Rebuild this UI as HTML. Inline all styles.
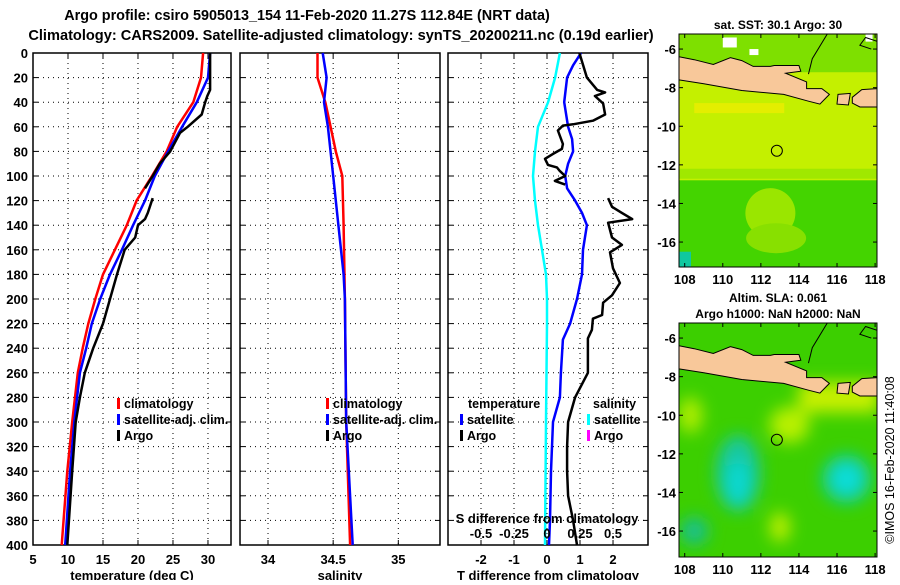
<!DOCTYPE html>
<html><head><meta charset="utf-8"><style>
html,body{margin:0;padding:0;background:#fff}
body{width:900px;height:580px;overflow:hidden;font-family:"Liberation Sans",Arial,sans-serif}
svg text{font-family:"Liberation Sans",Arial,sans-serif;font-weight:bold;fill:#000}
svg text.norm{font-weight:normal}
</style></head><body>
<svg id="chart" width="900" height="580" viewBox="0 0 900 580" xmlns="http://www.w3.org/2000/svg">
<text x="307" y="20" font-size="14.4" text-anchor="middle">Argo profile: csiro 5905013_154 11-Feb-2020 11.27S 112.84E (NRT data)</text>
<text x="341" y="40" font-size="14.6" text-anchor="middle">Climatology: CARS2009. Satellite-adjusted climatology: synTS_20200211.nc (0.19d earlier)</text>
<g id="g"></g>
</svg>
<script>
// ---------- data ----------
const depthTicks=[0,20,40,60,80,100,120,140,160,180,200,220,240,260,280,300,320,340,360,380,400];
const tempTicks=[5,10,15,20,25,30];
const salTicks=[34,34.5,35];
const tdiffTicks=[-2,-1,0,1,2];
const sdiffTicks=[-0.5,-0.25,0,0.25,0.5];
const sdiffTickLabels=["-0.5","-0.25","0","0.25","0.5"];

const climTDepth=[0,20,40,60,80,100,120,140,160,180,200,220,240,260,300,340,400];
const climT=[29.3,29.0,27.9,25.6,24.1,22.0,19.8,18.4,16.7,15.0,13.9,12.9,12.1,11.4,10.6,9.9,9.1];
const satTDepth=[0,20,40,60,80,100,120,140,160,180,200,220,240,260,300,340,400];
const satT=[30.3,30.0,28.4,26.3,24.3,22.4,21.0,19.3,17.7,16.0,14.6,13.4,12.6,11.7,10.9,10.3,9.6];
const argoTDepth1=[0,30,35,40,50,60,65,80,90,100,110];
const argoT1=[30.3,30.3,29.9,29.6,29.1,27.1,26.0,24.6,23.1,22.1,21.0];
const argoTDepth2=[118,130,135,140,150,160,180,200,220,240,260,280,300,340,400];
const argoT2=[22.1,21.4,21.0,20.0,19.6,18.1,17.0,16.0,15.0,13.6,12.4,11.7,11.1,10.6,9.9];

const climSDepth=[0,20,40,60,80,100,140,200,300,400];
const climS=[34.38,34.38,34.44,34.48,34.52,34.57,34.58,34.59,34.6,34.63];
const satSDepth=[0,20,40,60,100,140,180,200,300,400];
const satS=[34.42,34.45,34.43,34.46,34.5,34.54,34.58,34.59,34.6,34.65];

const satTdDepth=[0,10,20,40,60,70,80,90,100,110,120,130,140,160,180,200,220,233,260,280,300,340,380,400];
const satTd=[1.03,0.79,0.61,0.52,0.64,0.76,0.79,0.64,0.55,0.61,0.85,1.06,1.21,1.09,1.06,0.91,0.70,0.48,0.42,0.39,0.18,0.12,0.09,0.06];
const argoTdDepth1=[0,20,30,32,35,41,50,55,58,59,63,74,78,82,86,91,93,96,100,104,107];
const argoTd1=[0.98,1.21,1.52,1.76,1.45,1.70,1.76,1.39,0.79,0.48,0.33,0.48,0.45,0.18,-0.06,0.03,0.30,0.39,0.55,0.24,0.55];
const argoTdDepth2=[118,125,130,135,138,150,156,162,175,187,197,203,213,216,225,232,260,280,300,320,340,360,380,400];
const argoTd2=[1.85,1.97,2.27,2.58,1.85,1.97,2.27,1.91,2.0,2.21,1.97,1.70,1.67,1.39,1.36,1.24,1.24,0.85,0.64,0.61,0.61,0.64,0.79,0.91];
const satSdDepth=[0,20,40,60,80,100,120,140,160,180,200,220,300,400];
const satSd=[0.098,0.061,0.008,-0.068,-0.091,-0.106,-0.091,-0.068,-0.038,-0.008,0,0,-0.008,-0.015];

// ---------- helpers ----------
const NS="http://www.w3.org/2000/svg";
const G=document.getElementById('g');
function mk(tag,attrs,parent){const e=document.createElementNS(NS,tag);for(const k in attrs)e.setAttribute(k,attrs[k]);(parent||G).appendChild(e);return e;}
function txt(s,x,y,size,anchor,parent){const t=mk('text',{x:x,y:y,'font-size':size,'text-anchor':anchor||'middle'},parent);t.textContent=s;return t;}
const TOP=53,BOT=545;
function yD(d){return TOP+d*(BOT-TOP)/400;}

function panel(name,x0,x1,xmin,xmax,ticks,tickLabels,yLabels,xTitle){
  const sx=v=>x0+(v-xmin)*(x1-x0)/(xmax-xmin);
  const g=mk('g',{});
  
  
  depthTicks.forEach(d=>{
    if(d>0&&d<400){const l=mk('line',{x1:x0,x2:x1,y1:yD(d),y2:yD(d),stroke:'#000','stroke-width':1,'stroke-dasharray':'1,4'},g);
      }
    mk('line',{x1:x0,x2:x0+5,y1:yD(d),y2:yD(d),stroke:'#000'},g);
    mk('line',{x1:x1-5,x2:x1,y1:yD(d),y2:yD(d),stroke:'#000'},g);
    if(yLabels){const t=txt(String(d),28,yD(d)+5,13,'end',g);}
  });
  ticks.forEach((v,i)=>{
    const X=sx(v);
    const l=mk('line',{x1:X,x2:X,y1:TOP,y2:BOT,stroke:'#000','stroke-width':1,'stroke-dasharray':'1,4'},g);
    
    mk('line',{x1:X,x2:X,y1:BOT-5,y2:BOT,stroke:'#000'},g);
    mk('line',{x1:X,x2:X,y1:TOP,y2:TOP+5,stroke:'#000'},g);
    const t=txt(tickLabels[i],X,564,13,'middle',g);
    
  });
  const fr=mk('rect',{x:x0,y:TOP,width:x1-x0,height:BOT-TOP,fill:'none',stroke:'#000','stroke-width':1.5},g);
  
  const xt=txt(xTitle,(x0+x1)/2,580,13,'middle',g);
  
  return {sx,g};
}
function line(p,vals,depths,color,w,name,scale){
  const pts=vals.map((v,i)=>p.sx(v*(scale||1)).toFixed(1)+','+yD(depths[i]).toFixed(1)).join(' ');
  const l=mk('polyline',{points:pts,fill:'none',stroke:color,'stroke-width':w,'stroke-linejoin':'round'},p.g);
  
  
}
function legend(parent,x,y,color,label,name){
  mk('rect',{x:x,y:y-10,width:3,height:11,fill:color},parent);
  const t=txt(label,x+7,y,12.5,'start',parent);
  
  
}

// panel 1
const p1=panel('temperature-panel',33,231,5,33.29,tempTicks,tempTicks.map(String),true,'temperature (deg C)');
line(p1,climT,climTDepth,'#ff0000',2.5,'climatology-temperature-line');
line(p1,satT,satTDepth,'#0000ff',2.5,'satellite-temperature-line');
line(p1,argoT1,argoTDepth1,'#000',2.5,'argo-temperature-line-upper');
line(p1,argoT2,argoTDepth2,'#000',2.5,'argo-temperature-line-lower');
legend(p1.g,117,408,'#ff0000','climatology','legend-climatology');
legend(p1.g,117,424,'#0000ff','satellite-adj. clim.','legend-satellite');
legend(p1.g,117,440,'#000','Argo','legend-argo');

// panel 2
const p2=panel('salinity-panel',240,440,33.785,35.32,salTicks,['34','34.5','35'],false,'salinity');
line(p2,climS,climSDepth,'#ff0000',2.5,'climatology-salinity-line');
line(p2,satS,satSDepth,'#0000ff',2.5,'satellite-salinity-line');
legend(p2.g,326,408,'#ff0000','climatology','legend-climatology');
legend(p2.g,326,424,'#0000ff','satellite-adj. clim.','legend-satellite');
legend(p2.g,326,440,'#000','Argo','legend-argo');

// panel 3
const p3=panel('difference-panel',448,648,-3,3.06,tdiffTicks,tdiffTicks.map(String),false,'T difference from climatology');
line(p3,satSd,satSdDepth,'#00ffff',2.5,'satellite-salinity-diff-line',4);
line(p3,satTd,satTdDepth,'#0000ff',2.5,'satellite-temperature-diff-line');
line(p3,argoTd1,argoTdDepth1,'#000',2.5,'argo-temperature-diff-line-upper');
line(p3,argoTd2,argoTdDepth2,'#000',2.5,'argo-temperature-diff-line-lower');
sdiffTicks.forEach((v,i)=>{
  const t=txt(sdiffTickLabels[i],p3.sx(v*4),538,13,'middle',p3.g);
  
});
{const t=txt('S difference from climatology',547,523,13,'middle',p3.g);}
{const t=txt('temperature',468,408,12.5,'start',p3.g);}
{const t=txt('salinity',593,408,12.5,'start',p3.g);}
legend(p3.g,460,424,'#0000ff','satellite','legend-temperature-satellite');
legend(p3.g,460,440,'#000','Argo','legend-temperature-argo');
legend(p3.g,587,424,'#00ffff','satellite','legend-salinity-satellite');
legend(p3.g,587,440,'#ff00ff','Argo','legend-salinity-argo');

// ---------- maps ----------
const latTicks=[-6,-8,-10,-12,-14,-16], lonTicks=[108,110,112,114,116,118];
const java=[[107.7,-6.4],[108.5,-6.55],[109.5,-6.8],[110.4,-6.45],[111,-6.6],[111.6,-6.9],[112.5,-6.9],[112.7,-6.85],[114,-6.85],[114.1,-7.15],[113.3,-7.25],[114.4,-7.7],[114.4,-8.05],[115.2,-8.05],[115.6,-8.35],[115.1,-8.85],[114.5,-8.7],[113.2,-8.35],[111,-8.15],[109,-7.8],[107.7,-7.6]];
const lombok=[[116.05,-8.35],[116.7,-8.3],[116.6,-8.9],[116.0,-8.85]];
const sumbawa=[[116.8,-8.5],[117.3,-8.1],[118.1,-8.05],[118.1,-9.0],[117.2,-9.0],[116.8,-8.8]];
const argoLon=112.84, argoLat=-11.27;

function map(name,x0,y0,w,h,latTop,kind,title){
  const lon0=107.7,lon1=118.1,lat0=latTop,lat1=latTop-h/19.3;
  const px=lo=>x0+(lo-lon0)*w/(lon1-lon0);
  const py=la=>y0+(lat0-la)*h/(lat0-lat1);
  const g=mk('g',{});
  
  
  const id='clip'+name;
  const cp=mk('clipPath',{id:id},g);mk('rect',{x:x0,y:y0,width:w,height:h},cp);
  const inner=mk('g',{'clip-path':'url(#'+id+')'},g);
  if(kind==='sst'){
    mk('rect',{x:x0,y:y0,width:w,height:h,fill:'#c4f000'},inner);
    mk('rect',{x:x0,y:py(-12.8),width:w,height:h,fill:'#44d400'},inner);
    mk('ellipse',{cx:px(112.5),cy:py(-14.5),rx:25,ry:25,fill:'#9ae600'},inner);
    mk('ellipse',{cx:px(112.8),cy:py(-15.8),rx:30,ry:15,fill:'#88e000'},inner);
    mk('rect',{x:x0,y:py(-12.2),width:w,height:10,fill:'#a0e800'},inner);
    mk('rect',{x:x0,y:y0,width:w,height:py(-7.2)-y0,fill:'#7ee000'},inner);
    mk('rect',{x:px(108.5),y:py(-8.8),width:90,height:10,fill:'#e4ee00'},inner);
    mk('rect',{x:x0,y:py(-16.5),width:12,height:30,fill:'#10c8a0'},inner);
    mk('rect',{x:px(110),y:py(-5.4),width:14,height:10,fill:'#fff'},inner);
    mk('rect',{x:px(111.4),y:py(-6.0),width:9,height:6,fill:'#fff'},inner);
    mk('rect',{x:px(117.5),y:py(-5.2),width:7,height:8,fill:'#fff'},inner);
  } else {
    mk('rect',{x:x0,y:y0,width:w,height:h,fill:'#3ccf00'},inner);
    const defs=mk('defs',{},inner);
    const f=mk('filter',{id:'bl'+name,x:'-50%',y:'-50%',width:'200%',height:'200%'},defs);
    mk('feGaussianBlur',{stdDeviation:8},f);
    const b=mk('g',{filter:'url(#bl'+name+')'},inner);
    mk('ellipse',{cx:px(113.5),cy:py(-10.5),rx:20,ry:18,fill:'#b8f000'},b);
    mk('ellipse',{cx:px(108.3),cy:py(-10),rx:12,ry:18,fill:'#b0ee00'},b);
    mk('rect',{x:px(114),y:py(-8.3),width:80,height:30,fill:'#c8f000'},b);
    mk('ellipse',{cx:px(113),cy:py(-15.8),rx:10,ry:15,fill:'#c0f000'},b);
    mk('ellipse',{cx:px(110.8),cy:py(-13),rx:22,ry:38,fill:'#18c8a0'},b);
    mk('ellipse',{cx:px(110.8),cy:py(-13.5),rx:12,ry:22,fill:'#10d8d0'},b);
    mk('ellipse',{cx:px(116.5),cy:py(-13.3),rx:24,ry:24,fill:'#10d0b0'},b);
    mk('ellipse',{cx:px(116.5),cy:py(-13.3),rx:12,ry:12,fill:'#10e0e0'},b);
    mk('ellipse',{cx:px(108.5),cy:py(-16),rx:14,ry:14,fill:'#18c090'},b);
  }
  [java,lombok,sumbawa].forEach(poly=>{
    const l=mk('polygon',{points:poly.map(p=>px(p[0]).toFixed(1)+','+py(p[1]).toFixed(1)).join(' '),fill:'#f8c89a',stroke:'#000','stroke-width':1},inner);
    
  });
  mk('polyline',{points:[[115.5,-5.2],[114.7,-6.5],[114.5,-7.3]].map(p=>px(p[0])+','+py(p[1])).join(' '),fill:'none',stroke:'#000','stroke-width':1},inner);
  mk('polyline',{points:[[118.1,-5.6],[117.5,-5.4],[117.2,-5.8],[117.8,-6.0]].map(p=>px(p[0])+','+py(p[1])).join(' '),fill:'none',stroke:'#000','stroke-width':1},inner);
  const c=mk('circle',{cx:px(argoLon),cy:py(argoLat),r:5.5,fill:'none',stroke:'#000','stroke-width':1},inner);
  
  mk('rect',{x:x0,y:y0,width:w,height:h,fill:'none',stroke:'#000','stroke-width':1},g);
  latTicks.forEach(la=>{
    mk('line',{x1:x0,x2:x0+4,y1:py(la),y2:py(la),stroke:'#000'},g);
    mk('line',{x1:x0+w-4,x2:x0+w,y1:py(la),y2:py(la),stroke:'#000'},g);
    const t=txt(String(la),x0-3,py(la)+5,13,'end',g);
    
  });
  lonTicks.forEach(lo=>{
    mk('line',{x1:px(lo),x2:px(lo),y1:y0+h-4,y2:y0+h,stroke:'#000'},g);
    mk('line',{x1:px(lo),x2:px(lo),y1:y0,y2:y0+4,stroke:'#000'},g);
    const t=txt(String(lo),px(lo),y0+h+17,13,'middle',g);
    
  });
  title.forEach((s,i)=>{const t=txt(s,x0+w/2,y0-(title.length-i)*16+11,12,'middle',g);
    });
}
map('sst-map',679,34,198,233,-5.22,'sst',['sat. SST: 30.1 Argo: 30']);
map('sla-map',679,323,198,234,-5.22,'sla',['Altim. SLA: 0.061','Argo h1000: NaN h2000: NaN']);
{const t=txt('©IMOS 16-Feb-2020 11:40:08',0,0,12.5,'middle');t.setAttribute('transform','translate(894,460) rotate(-90)');t.setAttribute('class','norm');
}
</script>
</body></html>
